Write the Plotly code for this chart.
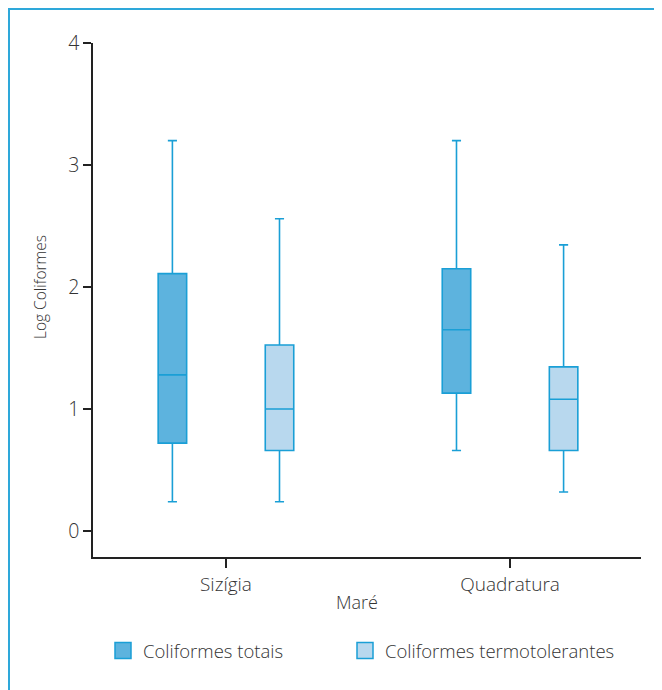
import plotly.graph_objects as go

# ---- data ----
categories = ["Sizígia", "Quadratura"]
series_names = ["Coliformes totais", "Coliformes termotolerantes"]

totais_lower = [0.24, 0.66]
totais_q1 = [0.72, 1.13]
totais_median = [1.28, 1.65]
totais_q3 = [2.11, 2.15]
totais_upper = [3.20, 3.20]

termo_lower = [0.24, 0.32]
termo_q1 = [0.66, 0.66]
termo_median = [1.00, 1.08]
termo_q3 = [1.525, 1.345]
termo_upper = [2.56, 2.345]

y_ticks = [0, 1, 2, 3, 4]

# ---- styles ----
OFF = 8  # page body margin offset
W, H = 662 - OFF, 690 - OFF
ML, MR, MT, MB = 93 - OFF, 21, 43 - OFF, 133
FONT = "Open Sans"
WT = 300
TXT = "#333333"
fills = ["#5db3de", "#b8d8ee"]
lines = ["#1a9fd6", "#1a9fd6"]
frame_color = "#2ea8da"

fig = go.Figure()

stats = [
    (totais_lower, totais_q1, totais_median, totais_q3, totais_upper),
    (termo_lower, termo_q1, termo_median, termo_q3, termo_upper),
]
for i, (lo, q1, med, q3, up) in enumerate(stats):
    fig.add_trace(go.Box(
        x=categories,
        lowerfence=lo, q1=q1, median=med, q3=q3, upperfence=up,
        name=series_names[i],
        fillcolor=fills[i],
        line=dict(color=lines[i], width=1.6),
        whiskerwidth=0.32,
        showlegend=False,
        hoverinfo="skip",
    ))

pw = W - ML - MR
ph = H - MT - MB


def px_x(p):
    # p: x pixel in the reference image
    return (p - OFF - ML) / pw


def px_y(p):
    # p: y pixel in the reference image
    return (H - MB - (p - OFF)) / ph


# legend entries (one legend each so they can be placed independently)
legend_names = ["legend", "legend2"]
for i in range(2):
    fig.add_trace(go.Scatter(
        x=[None], y=[None], mode="markers", name=series_names[i],
        legend=legend_names[i],
        marker=dict(symbol="square", size=17, color=fills[i],
                    line=dict(color=lines[i], width=1.5)),
    ))

# frame (left + top)
fig.add_shape(type="line", xref="paper", yref="paper",
              x0=px_x(9), x1=px_x(9), y0=px_y(9), y1=px_y(700),
              line=dict(color=frame_color, width=2))
fig.add_shape(type="line", xref="paper", yref="paper",
              x0=px_x(8), x1=px_x(700), y0=px_y(9), y1=px_y(9),
              line=dict(color=frame_color, width=2))

fig.add_annotation(text="Log Coliformes", xref="paper", yref="paper",
                   x=px_x(40), y=px_y(287), textangle=-90, showarrow=False,
                   font=dict(family=FONT, size=15.5, color=TXT, weight=WT),
                   xanchor="center", yanchor="middle")
fig.add_annotation(text="Maré", xref="paper", yref="paper",
                   x=px_x(357), y=px_y(602), showarrow=False,
                   font=dict(family=FONT, size=18, color=TXT, weight=WT),
                   xanchor="center", yanchor="middle")

legend_common = dict(orientation="h", xanchor="left", yanchor="middle",
                     font=dict(family=FONT, size=18.5, color=TXT, weight=WT),
                     itemsizing="trace", bgcolor="rgba(0,0,0,0)")

fig.update_layout(
    width=W, height=H,
    margin=dict(l=ML, r=MR, t=MT, b=MB, pad=0),
    paper_bgcolor="white", plot_bgcolor="white",
    boxmode="group", boxgap=0.246, boxgroupgap=0.734,
    font=dict(family=FONT, size=17, color=TXT, weight=WT),
    legend=dict(x=px_x(103), y=px_y(651), **legend_common),
    legend2=dict(x=px_x(345), y=px_y(651), **legend_common),
    xaxis=dict(type="category", range=[-0.468, 1.461],
               showline=True, linecolor="#222", linewidth=1.5,
               ticks="outside", ticklen=9, tickcolor="#222", tickwidth=1.5,
               showgrid=False, zeroline=False,
               tickfont=dict(family=FONT, size=19, color=TXT, weight=WT)),
    yaxis=dict(range=[-0.213, 4.0], tickvals=y_ticks,
               showline=True, linecolor="#222", linewidth=1.5,
               ticks="outside", ticklen=8, tickcolor="#222", tickwidth=1.5,
               showgrid=False, zeroline=False,
               tickfont=dict(family=FONT, size=19.5, color=TXT, weight=WT)),
)

fig.write_html("out.html")
